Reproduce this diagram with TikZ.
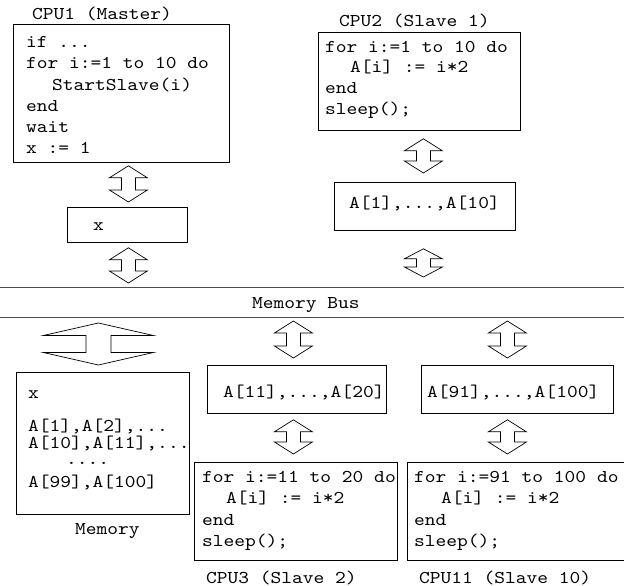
\documentclass[tikz,border=0pt]{standalone}
\usepackage{fontspec}
\newfontfamily\courfont[FakeStretch=1.138]{lmmono10-regular.otf}
\usetikzlibrary{calc}
\begin{document}
\begin{tikzpicture}[x=1pt,y=-1pt,
  box/.style={draw=black, line width=0.8pt, rectangle, inner sep=0pt, anchor=north west},
  code/.style={anchor=base west, inner sep=0pt, font=\courfont\fontsize{18}{21}\selectfont, text=black},
  busline/.style={draw=black!70, line width=1pt},
  dblarr/.style n args={3}{draw=black, line width=0.7pt, line join=miter, to path={
    let \p1=(\tikztostart), \p2=(\tikztotarget) in
    (\x1,\y1) -- (\x1-#1,\y1-#3) -- (\x1-#2,\y1-#3) -- (\x1-#2,\y2+#3) -- (\x1-#1,\y2+#3) -- (\x1,\y2)
    -- (\x1+#1,\y2+#3) -- (\x1+#2,\y2+#3) -- (\x1+#2,\y1-#3) -- (\x1+#1,\y1-#3) -- cycle}},
  smallarr/.style={dblarr={19pt}{7pt}{12pt}},
  shortarr/.style={dblarr={19pt}{7pt}{10pt}},
  widearr/.style={dblarr={55pt}{12.5pt}{12.5pt}},
]
\useasboundingbox (0,0) rectangle (624,586);

% boxes
\node[box, minimum width=216pt, minimum height=138pt] (cpu1) at (13,24) {};
\node[box, minimum width=120pt, minimum height=35pt] (xbox) at (67,207) {};
\node[box, minimum width=202pt, minimum height=98pt] (cpu2) at (318,32) {};
\node[box, minimum width=181pt, minimum height=48pt] (a1) at (334,182) {};
\node[box, minimum width=173pt, minimum height=142pt] (mem) at (16,372) {};
\node[box, minimum width=179pt, minimum height=48pt] (a11) at (207,365) {};
\node[box, minimum width=203pt, minimum height=98pt] (cpu3) at (194,462) {};
\node[box, minimum width=192pt, minimum height=48pt] (a91) at (421,365) {};
\node[box, minimum width=240pt, minimum height=98pt] (cpu11) at (407,462) {};

% memory bus
\coordinate (bustop) at (0,287);
\coordinate (busbot) at (0,317);
\draw[busline] (bustop) -- (624,287);
\draw[busline] (busbot) -- (624,317);
\node[code] (busl) at (252,308) {Memory Bus};

% titles
\node[code] (t1) at (32,20) {CPU1 (Master)};
\node[code] (t2) at (339,27) {CPU2 (Slave 1)};
\node[code] (t3) at (75,534) {Memory};
\node[code] (t4) at (206,583) {CPU3 (Slave 2)};
\node[code] (t5) at (419,583) {CPU11 (Slave 10)};

% CPU1 code
\node[code] (c1a) at (26,48) {if ...};
\node[code] (c1b) at (26,69) {for i:=1 to 10 do};
\node[code] (c1c) at (52,90) {StartSlave(i)};
\node[code] (c1d) at (26,111) {end};
\node[code] (c1e) at (26,132) {wait};
\node[code] (c1f) at (26,153) {x := 1};
\node[code] (xl) at (93,230) {x};

% CPU2 code
\node[code] (c2a) at (325,53) {for i:=1 to 10 do};
\node[code] (c2b) at (350,73) {A[i] := i*2};
\node[code] (c2c) at (325,94) {end};
\node[code] (c2d) at (325,114) {sleep();};
\node[code] (a1l) at (349,208) {A[1],...,A[10]};

% memory
\node[code] (m1) at (28,398) {x};
\node[code] (m2) at (28,431) {A[1],A[2],...};
\node[code] (m3) at (28,448) {A[10],A[11],...};
\node[code] (m4) at (66,464) {....};
\node[code] (m5) at (28,487) {A[99],A[100]};

% CPU3
\node[code] (a11l) at (223,397) {A[11],...,A[20]};
\node[code] (c3a) at (202,482) {for i:=11 to 20 do};
\node[code] (c3b) at (226,503) {A[i] := i*2};
\node[code] (c3c) at (202,525) {end};
\node[code] (c3d) at (202,546) {sleep();};

% CPU11
\node[code] (a91l) at (427,397) {A[91],...,A[100]};
\node[code] (c4a) at (414,482) {for i:=91 to 100 do};
\node[code] (c4b) at (441,503) {A[i] := i*2};
\node[code] (c4c) at (414,525) {end};
\node[code] (c4d) at (414,546) {sleep();};

% arrow end points
\coordinate (u1) at ($(xbox.north |- cpu1.south)+(1,3)$);
\coordinate (v1) at ($(xbox.north)+(1,-5)$);
\coordinate (u2) at ($(xbox.south)+(1,5)$);
\coordinate (v2) at ($(xbox.south |- bustop)+(1,-4)$);
\coordinate (u3) at ($(a1.north |- cpu2.south)+(-1.5,8)$);
\coordinate (v3) at ($(a1.north)+(-1.5,-9)$);
\coordinate (u4) at ($(a1.south)+(-1.5,18)$);
\coordinate (v4) at ($(a1.south |- bustop)+(-1.5,-10)$);
\coordinate (u5) at ($(a11.north |- busbot)+(-3.5,4)$);
\coordinate (v5) at ($(a11.north)+(-3.5,-7)$);
\coordinate (u6) at ($(a11.south)+(-3.5,6)$);
\coordinate (v6) at ($(a11.south |- cpu3.north)+(-3.5,-8)$);
\coordinate (u7) at ($(a91.north |- busbot)+(-10,4)$);
\coordinate (v7) at ($(a91.north)+(-10,-7)$);
\coordinate (u8) at ($(a91.south)+(-10,6)$);
\coordinate (v8) at ($(a91.south |- cpu11.north)+(-10,-8)$);
\coordinate (u9) at ($(mem.north |- busbot)+(-4.5,6)$);
\coordinate (v9) at ($(mem.north)+(-4.5,-7)$);

% arrows
\draw[smallarr] (u1) to (v1);
\draw[smallarr] (u2) to (v2);
\draw[smallarr] (u3) to (v3);
\draw[shortarr] (u4) to (v4);
\draw[smallarr] (u5) to (v5);
\draw[smallarr] (u6) to (v6);
\draw[smallarr] (u7) to (v7);
\draw[smallarr] (u8) to (v8);
\draw[widearr] (u9) to (v9);
\end{tikzpicture}
\end{document}
